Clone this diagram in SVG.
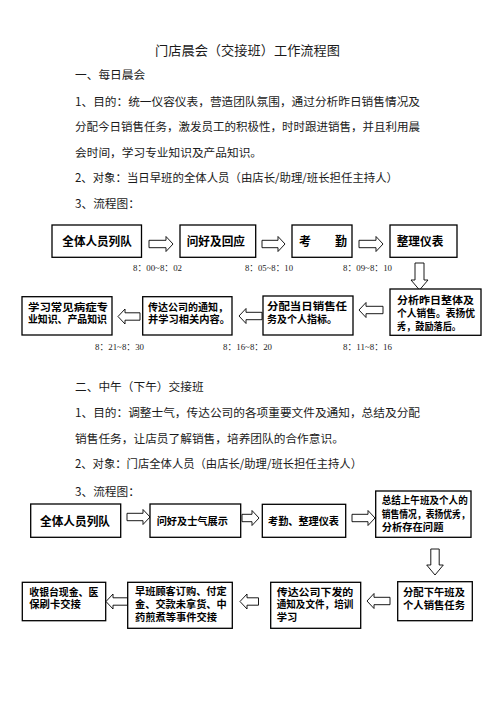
<svg xmlns="http://www.w3.org/2000/svg" width="496" height="702" viewBox="0 0 496 702">
<style>
.bg{fill:#fff}
.t{font-family:"Noto Sans CJK SC","Liberation Serif",serif;fill:#1a1a1a;font-size:11.7px}
.ttl{font-size:13px}
.tm{font-family:"Liberation Serif","Noto Sans CJK SC",serif;font-size:9px;fill:#222}
.box{fill:#fff;stroke:#000;stroke-width:1.3}
.arr{fill:#fff;stroke:#000;stroke-width:0.9;stroke-linejoin:miter}
.n{font-family:"Noto Sans CJK SC","Liberation Sans",sans-serif;font-weight:bold;fill:#000;font-size:10.3px}
.n12{font-size:12px}
</style>
<rect class="bg" x="0" y="0" width="496" height="702"/>

<g id="text-top">
<text class="t ttl" x="247.5" y="54.5" text-anchor="middle" textLength="185" lengthAdjust="spacingAndGlyphs">门店晨会（交接班）工作流程图</text>
<text class="t" x="75" y="79">一、每日晨会</text>
<text class="t" x="75" y="105.5" textLength="345" lengthAdjust="spacingAndGlyphs">1、目的：统一仪容仪表，营造团队氛围，通过分析昨日销售情况及</text>
<text class="t" x="75" y="131" textLength="345" lengthAdjust="spacingAndGlyphs">分配今日销售任务，激发员工的积极性，时时跟进销售，并且利用晨</text>
<text class="t" x="75" y="156.5">会时间，学习专业知识及产品知识。</text>
<text class="t" x="75" y="182" textLength="323" lengthAdjust="spacingAndGlyphs">2、对象：当日早班的全体人员（由店长/助理/班长担任主持人）</text>
<text class="t" x="75" y="208">3、流程图：</text>
</g>

<g id="text-mid">
<text class="t" x="75" y="390.7">二、中午（下午）交接班</text>
<text class="t" x="75" y="417.3" textLength="345" lengthAdjust="spacingAndGlyphs">1、目的：调整士气，传达公司的各项重要文件及通知，总结及分配</text>
<text class="t" x="75" y="443">销售任务，让店员了解销售，培养团队的合作意识。</text>
<text class="t" x="75" y="468.3" textLength="287" lengthAdjust="spacingAndGlyphs">2、对象：门店全体人员（由店长/助理/班长担任主持人）</text>
<text class="t" x="75" y="495.5">3、流程图：</text>
</g>

<g id="times">
<text class="tm" x="133" y="270.5" textLength="49" lengthAdjust="spacingAndGlyphs">8：00~8：02</text>
<text class="tm" x="245" y="270.5" textLength="48" lengthAdjust="spacingAndGlyphs">8：05~8：10</text>
<text class="tm" x="343" y="270.5" textLength="49" lengthAdjust="spacingAndGlyphs">8：09~8：10</text>
<text class="tm" x="95" y="349.5" textLength="49" lengthAdjust="spacingAndGlyphs">8：21~8：30</text>
<text class="tm" x="223" y="349.5" textLength="49" lengthAdjust="spacingAndGlyphs">8：16~8：20</text>
<text class="tm" x="343" y="349.5" textLength="49" lengthAdjust="spacingAndGlyphs">8：11~8：16</text>
</g>

<g id="connectors">
<path class="arr" d="M149,240.3 H166 V236.5 L173,244 L166,251.5 V247.7 H149 Z"/>
<path class="arr" d="M262,240.3 H278 V236.5 L285,244 L278,251.5 V247.7 H262 Z"/>
<path class="arr" d="M359,240.3 H376 V236.5 L383,244 L376,251.5 V247.7 H359 Z"/>
<path class="arr" d="M415,263 V280 H411 L419.5,290 L428,280 H424 V263 Z"/>
<path class="arr" d="M383,306.3 H366 V302.5 L359,310 L366,317.5 V313.7 H383 Z"/>
<path class="arr" d="M262,312.3 H246 V308.5 L239,316 L246,323.5 V319.7 H262 Z"/>
<path class="arr" d="M140,312.8 H125 V309 L118,316.5 L125,324 V320.2 H140 Z"/>

<path class="arr" d="M127,513.3 H143 V509.5 L150,517 L143,524.5 V520.7 H127 Z"/>
<path class="arr" d="M242,514.3 H252 V510.5 L259,518 L252,525.5 V521.7 H242 Z"/>
<path class="arr" d="M352,514.3 H368 V510.5 L375,518 L368,525.5 V521.7 H352 Z"/>
<path class="arr" d="M430.8,549 V565 H426.7 L435,575 L443.3,565 H439.2 V549 Z"/>
<path class="arr" d="M390,597.3 H374 V593.5 L367,601 L374,608.5 V604.7 H390 Z"/>
<path class="arr" d="M258.5,597.8 H247 V594 L240,601.5 L247,609 V605.2 H258.5 Z"/>
<path class="arr" d="M127.5,597.8 H113 V594 L106,601.5 L113,609 V605.2 H127.5 Z"/>
</g>

<g id="n1">
<rect class="box" x="52" y="225" width="89.5" height="32.3"/>
<text class="n n12" x="62.3" y="245.5" textLength="69.5" lengthAdjust="spacingAndGlyphs">全体人员列队</text>
</g>
<g id="n2">
<rect class="box" x="180" y="225" width="75.7" height="32.3"/>
<text class="n n12" x="186.7" y="245.5" textLength="58.3" lengthAdjust="spacingAndGlyphs">问好及回应</text>
</g>
<g id="n3">
<rect class="box" x="292" y="225" width="60" height="32.3"/>
<text class="n n12" x="299" y="245.5">考　　勤</text>
</g>
<g id="n4">
<rect class="box" x="390" y="225" width="67" height="32.3"/>
<text class="n n12" x="396.7" y="245.5" textLength="46.6" lengthAdjust="spacingAndGlyphs">整理仪表</text>
</g>
<g id="n5">
<rect class="box" x="390" y="289" width="91" height="46.3"/>
<text class="n"><tspan x="397" y="303.5" textLength="77" lengthAdjust="spacingAndGlyphs">分析昨日整体及</tspan><tspan x="397" y="317" textLength="78" lengthAdjust="spacingAndGlyphs">个人销售。表扬优</tspan><tspan x="397" y="330" textLength="64" lengthAdjust="spacingAndGlyphs">秀，鼓励落后。</tspan></text>
</g>
<g id="n6">
<rect class="box" x="263" y="296" width="90" height="39"/>
<text class="n"><tspan x="267" y="309.5" textLength="80" lengthAdjust="spacingAndGlyphs">分配当日销售任</tspan><tspan x="267" y="322.5" textLength="70" lengthAdjust="spacingAndGlyphs">务及个人指标。</tspan></text>
</g>
<g id="n7">
<rect class="box" x="142.7" y="296.7" width="89.3" height="38.3"/>
<text class="n"><tspan x="148" y="310.5" textLength="80" lengthAdjust="spacingAndGlyphs">传达公司的通知，</tspan><tspan x="148" y="323" textLength="82" lengthAdjust="spacingAndGlyphs">并学习相关内容。</tspan></text>
</g>
<g id="n8">
<rect class="box" x="22" y="296.7" width="90" height="38.3"/>
<text class="n"><tspan x="28" y="310.5" textLength="80" lengthAdjust="spacingAndGlyphs">学习常见病症专</tspan><tspan x="28" y="323" textLength="79" lengthAdjust="spacingAndGlyphs">业知识、产品知识</tspan></text>
</g>

<g id="m1">
<rect class="box" x="30.7" y="504" width="90" height="33.3"/>
<text class="n n12" x="40" y="525.5" textLength="70" lengthAdjust="spacingAndGlyphs">全体人员列队</text>
</g>
<g id="m2">
<rect class="box" x="150" y="504" width="90.7" height="33.3"/>
<text class="n" x="156.7" y="524.8" textLength="71.3" lengthAdjust="spacingAndGlyphs">问好及士气展示</text>
</g>
<g id="m3">
<rect class="box" x="262.3" y="504.3" width="83.4" height="33"/>
<text class="n" x="268" y="525.3" textLength="71" lengthAdjust="spacingAndGlyphs">考勤、整理仪表</text>
</g>
<g id="m4">
<rect class="box" x="375.7" y="491" width="95.3" height="46.3"/>
<text class="n"><tspan x="381.7" y="504" textLength="86" lengthAdjust="spacingAndGlyphs">总结上午班及个人的</tspan><tspan x="381.7" y="518" textLength="88" lengthAdjust="spacingAndGlyphs">销售情况，表扬优秀，</tspan><tspan x="381.7" y="530.8">分析存在问题</tspan></text>
</g>
<g id="m5">
<rect class="box" x="397.7" y="581.7" width="74.6" height="39"/>
<text class="n"><tspan x="403" y="596" textLength="62" lengthAdjust="spacingAndGlyphs">分配下午班及</tspan><tspan x="403" y="608.5" textLength="62" lengthAdjust="spacingAndGlyphs">个人销售任务</tspan></text>
</g>
<g id="m6">
<rect class="box" x="270.7" y="582.3" width="90" height="46"/>
<text class="n"><tspan x="276.7" y="595.5" textLength="76.6" lengthAdjust="spacingAndGlyphs">传达公司下发的</tspan><tspan x="276.7" y="608.2" textLength="76.6" lengthAdjust="spacingAndGlyphs">通知及文件，培训</tspan><tspan x="276.7" y="620.8">学习</tspan></text>
</g>
<g id="m7">
<rect class="box" x="127.7" y="582.3" width="104.6" height="46"/>
<text class="n"><tspan x="135" y="595.3" textLength="91.7" lengthAdjust="spacingAndGlyphs">早班顾客订购、付定</tspan><tspan x="135" y="608.2" textLength="91.7" lengthAdjust="spacingAndGlyphs">金、交款未拿货、中</tspan><tspan x="135" y="620.8" textLength="82" lengthAdjust="spacingAndGlyphs">药煎煮等事件交接</tspan></text>
</g>
<g id="m8">
<rect class="box" x="22.3" y="582.3" width="83.4" height="38.4"/>
<text class="n"><tspan x="29.3" y="595.5" textLength="69" lengthAdjust="spacingAndGlyphs">收银台现金、医</tspan><tspan x="29.3" y="608.2">保刷卡交接</tspan></text>
</g>
</svg>
